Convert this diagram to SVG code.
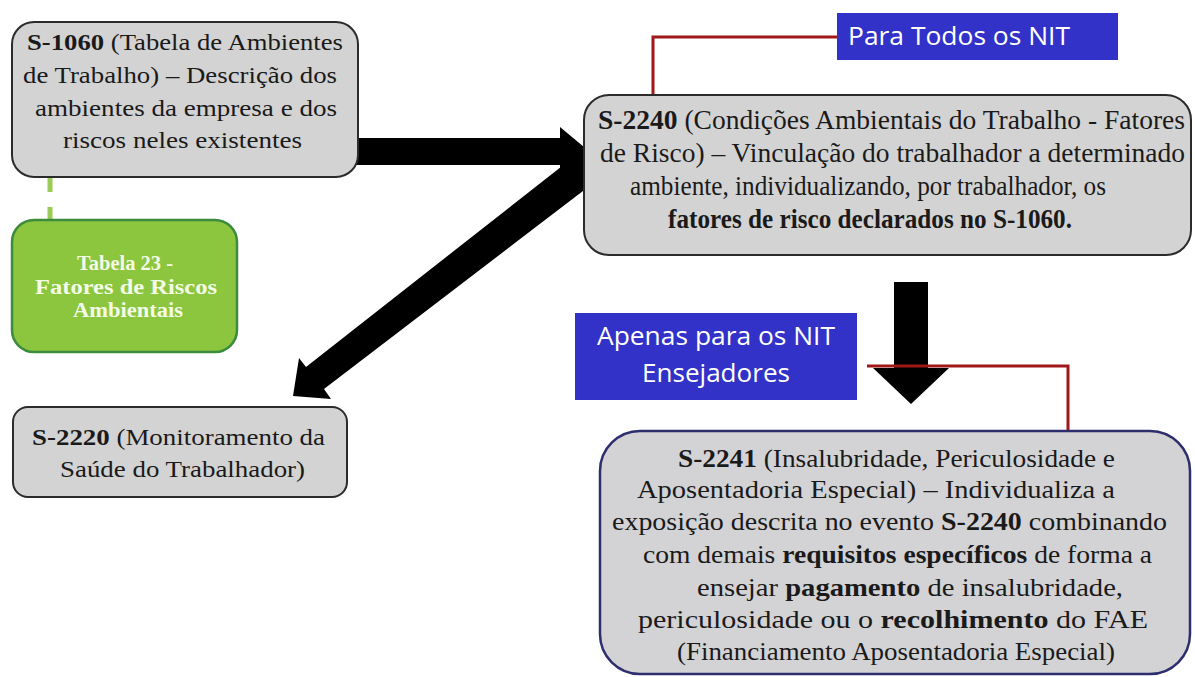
<svg xmlns="http://www.w3.org/2000/svg" width="1195" height="677" viewBox="0 0 1195 677">
<style>
.box{fill:#d3d3d3;stroke:#2b2b2b;stroke-width:2}
.t{font-family:'Liberation Serif',serif;fill:#1a1a1a}
.b{font-weight:bold}
.g{font-family:'Liberation Serif',serif;font-weight:bold;fill:#f4fbe6;font-size:20px}
.blue{fill:#3232c8}
.bt{font-family:'Open Sans','Liberation Sans',sans-serif;fill:#ffffff;font-size:25px}
.red{fill:none;stroke:#a01818;stroke-width:3}
.arrow{fill:#000000}
</style>
<rect width="1195" height="677" fill="#ffffff"/>
<g id="connectors">
  <polygon class="arrow" points="340,138 560,138 560,127 590,152 560,178 560,165 340,165"/>
  <polygon class="arrow" points="580,152 306,367 299,358 293,396 331,399 324,389 600,178"/>
  <polygon class="arrow" points="894,282 928,282 928,368 949,368 911,404 873,368 894,368"/>
  <polyline class="red" points="653,96 653,37 837,37"/>
  <polyline class="red" points="867,366 1068,366 1068,431"/>
  <line x1="50" y1="177" x2="50" y2="221" stroke="#9ccc55" stroke-width="5" stroke-dasharray="15,15"/>
</g>
<g id="s1060">
  <rect class="box" x="12" y="22" width="346" height="155" rx="22"/>
  <text class="t" font-size="24" x="27" y="50" textLength="316" lengthAdjust="spacingAndGlyphs"><tspan class="b">S-1060</tspan> (Tabela de Ambientes</text>
  <text class="t" font-size="24" x="23" y="83" textLength="314" lengthAdjust="spacingAndGlyphs">de Trabalho) – Descrição dos</text>
  <text class="t" font-size="24" x="35" y="116" textLength="302" lengthAdjust="spacingAndGlyphs">ambientes  da empresa e dos</text>
  <text class="t" font-size="24" x="63" y="148" textLength="239" lengthAdjust="spacingAndGlyphs">riscos neles existentes</text>
</g>
<g id="tabela23">
  <rect x="12" y="220" width="225" height="132" rx="22" fill="#8cc63f" stroke="#3d8b3d" stroke-width="2.5"/>
  <text class="g" x="125" y="270" text-anchor="middle" textLength="96" lengthAdjust="spacingAndGlyphs">Tabela 23 -</text>
  <text class="g" x="126" y="294" text-anchor="middle" textLength="182" lengthAdjust="spacingAndGlyphs">Fatores de Riscos</text>
  <text class="g" x="128" y="317" text-anchor="middle" textLength="110" lengthAdjust="spacingAndGlyphs">Ambientais</text>
</g>
<g id="s2220">
  <rect class="box" x="13" y="407" width="334" height="90" rx="15"/>
  <text class="t" font-size="24" x="32" y="445" textLength="293" lengthAdjust="spacingAndGlyphs"><tspan class="b">S-2220</tspan> (Monitoramento  da</text>
  <text class="t" font-size="24" x="60" y="477" textLength="245" lengthAdjust="spacingAndGlyphs">Saúde do Trabalhador)</text>
</g>
<g id="para-todos">
  <rect class="blue" x="837" y="13" width="281" height="47"/>
  <text class="bt" x="848" y="45" textLength="222" lengthAdjust="spacingAndGlyphs">Para Todos os NIT</text>
</g>
<g id="s2240">
  <rect class="box" x="584" y="95" width="607" height="160" rx="25"/>
  <text class="t" font-size="27" x="598" y="129" textLength="587" lengthAdjust="spacingAndGlyphs"><tspan class="b">S-2240</tspan> (Condições Ambientais  do Trabalho - Fatores</text>
  <text class="t" font-size="27" x="600" y="162" textLength="585" lengthAdjust="spacingAndGlyphs">de Risco) – Vinculação  do trabalhador a determinado</text>
  <text class="t" font-size="27" x="630" y="195" textLength="476" lengthAdjust="spacingAndGlyphs">ambiente,  individualizando,  por trabalhador,  os</text>
  <text class="t b" font-size="27" x="668" y="228" textLength="404" lengthAdjust="spacingAndGlyphs">fatores de risco declarados no S-1060.</text>
</g>
<g id="apenas">
  <rect class="blue" x="575" y="313" width="282" height="87"/>
  <text class="bt" x="597" y="345" textLength="238" lengthAdjust="spacingAndGlyphs">Apenas para os NIT</text>
  <text class="bt" x="642" y="382" textLength="148" lengthAdjust="spacingAndGlyphs">Ensejadores</text>
</g>
<g id="s2241">
  <rect x="600" y="431" width="590" height="243" rx="40" fill="#d3d3d6" stroke="#2e2e6e" stroke-width="2.5"/>
  <text class="t" font-size="26" x="678" y="467" textLength="437" lengthAdjust="spacingAndGlyphs"><tspan class="b">S-2241</tspan> (Insalubridade,  Periculosidade  e</text>
  <text class="t" font-size="26" x="637" y="498" textLength="478" lengthAdjust="spacingAndGlyphs">Aposentadoria  Especial)  – Individualiza  a</text>
  <text class="t" font-size="26" x="612" y="530" textLength="555" lengthAdjust="spacingAndGlyphs">exposição descrita no evento <tspan class="b">S-2240</tspan> combinando</text>
  <text class="t" font-size="26" x="643" y="563" textLength="509" lengthAdjust="spacingAndGlyphs">com demais <tspan class="b">requisitos específicos</tspan> de forma a</text>
  <text class="t" font-size="26" x="697" y="596" textLength="426" lengthAdjust="spacingAndGlyphs">ensejar <tspan class="b">pagamento</tspan> de insalubridade,</text>
  <text class="t" font-size="26" x="638" y="628" textLength="510" lengthAdjust="spacingAndGlyphs">periculosidade  ou o <tspan class="b">recolhimento</tspan> do FAE</text>
  <text class="t" font-size="26" x="677" y="660" textLength="438" lengthAdjust="spacingAndGlyphs">(Financiamento  Aposentadoria Especial)</text>
</g>
</svg>
